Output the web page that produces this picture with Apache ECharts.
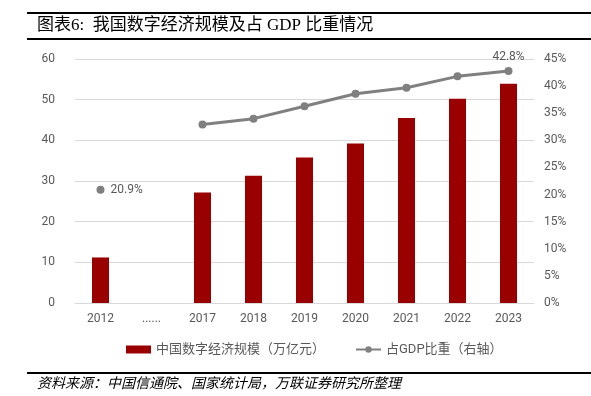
<!DOCTYPE html>
<html>
<head>
<meta charset="utf-8">
<script src="https://cdn.jsdelivr.net/npm/echarts@6/dist/echarts.min.js"></script>
<style>
  html, body { margin: 0; padding: 0; background: #fff; }
  #main { width: 591px; height: 396px; }
</style>
</head>
<body>
<div id="main"></div>
<script>
// data
const years = ['2012', '......', '2017', '2018', '2019', '2020', '2021', '2022', '2023'];
const scale = [11.2, null, 27.2, 31.3, 35.8, 39.2, 45.5, 50.2, 53.9];   // 万亿元
const share = [20.9, null, 32.9, 34.0, 36.3, 38.6, 39.7, 41.8, 42.8];   // %
const leftTicks = [0, 60, 10];
const rightTicks = [0, 45, 5];

const chart = echarts.init(document.getElementById('main'));
const grey = '#595959';

// only the first and last points carry a label
const shareData = share.map(function (v, i) {
  if (i === 0) return { value: v, label: { show: true, position: 'right', distance: 6 } };
  if (i === share.length - 1) return { value: v, label: { show: true, position: 'top', distance: 4 } };
  return v;
});

chart.setOption({
  animation: false,
  textStyle: { fontFamily: 'Roboto, "Noto Sans CJK SC", sans-serif' },
  graphic: [
    { type: 'rect', shape: { x: 27, y: 12, width: 564, height: 2 }, style: { fill: '#000' } },
    { type: 'rect', shape: { x: 27, y: 38, width: 564, height: 2 }, style: { fill: '#000' } },
    { type: 'text', left: 37, top: 17, style: { text: '图表6:  我国数字经济规模及占 GDP 比重情况', fill: '#000',
      font: '17px "Liberation Serif", "Noto Sans CJK SC", serif' } },
    { type: 'rect', shape: { x: 27, y: 372, width: 564, height: 2 }, style: { fill: '#000' } },
    { type: 'text', left: 37, top: 376, style: { text: '资料来源：中国信通院、国家统计局，万联证券研究所整理', fill: '#000',
      font: 'italic 14px "Noto Sans CJK SC", serif' } }
  ],
  grid: { left: 75, right: 57, top: 59, bottom: 93 },
  legend: {
    bottom: 35, left: 121, itemGap: 30, itemWidth: 25, itemHeight: 8,
    textStyle: { color: grey, fontSize: 13 },
    data: [
      { name: '中国数字经济规模（万亿元）', icon: 'rect' },
      { name: '占GDP比重（右轴）' }
    ]
  },
  xAxis: {
    type: 'category', data: years,
    axisLine: { lineStyle: { color: '#d9d9d9' } },
    axisTick: { show: false },
    axisLabel: { color: grey, fontSize: 12, margin: 10 }
  },
  yAxis: [
    {
      type: 'value', min: leftTicks[0], max: leftTicks[1], interval: leftTicks[2],
      axisLine: { show: false }, axisTick: { show: false },
      axisLabel: { color: grey, fontSize: 12, margin: 20 },
      splitLine: { lineStyle: { color: '#d9d9d9' } }
    },
    {
      type: 'value', min: rightTicks[0], max: rightTicks[1], interval: rightTicks[2],
      axisLine: { show: false }, axisTick: { show: false },
      axisLabel: { color: grey, fontSize: 12, margin: 10, formatter: '{value}%' },
      splitLine: { show: false }
    }
  ],
  series: [
    {
      name: '中国数字经济规模（万亿元）', type: 'bar', data: scale, barWidth: 17,
      itemStyle: { color: '#990000' }
    },
    {
      name: '占GDP比重（右轴）', type: 'line', yAxisIndex: 1, data: shareData,
      symbol: 'circle', symbolSize: 8, connectNulls: false,
      lineStyle: { color: '#808080', width: 3 },
      itemStyle: { color: '#808080' },
      label: { show: false, color: grey, fontSize: 12, formatter: '{c}%' }
    }
  ]
});
</script>
</body>
</html>
